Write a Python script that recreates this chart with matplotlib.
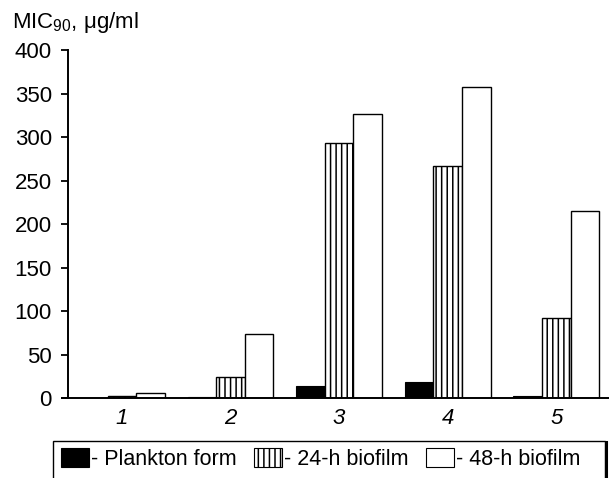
import matplotlib
matplotlib.use("Agg")
import matplotlib.pyplot as plt
import numpy as np
from matplotlib.patches import Patch, Rectangle
from matplotlib.lines import Line2D

# values
groups = ["1", "2", "3", "4", "5"]
plankton = [0.5, 1, 14, 19, 3]
biofilm_24h = [2.3, 25, 293, 267, 92]
biofilm_48h = [6, 73.5, 327, 357, 215]
yticks = [0, 50, 100, 150, 200, 250, 300, 350, 400]
legend_labels = ["- Plankton form", "- 24-h biofilm", "- 48-h biofilm"]

plt.rcParams["font.family"] = ["Liberation Sans", "DejaVu Sans"]
plt.rcParams["mathtext.fontset"] = "custom"
plt.rcParams["mathtext.rm"] = "Liberation Sans"
plt.rcParams["hatch.linewidth"] = 1.1
plt.rcParams["hatch.color"] = "black"

W, H = 609, 478
fig = plt.figure(figsize=(W / 100, H / 100), dpi=100)
ax = fig.add_axes([68.3 / W, 1 - 398.3 / H, (W - 68.3) / W, (398.3 - 50) / H])

x = np.arange(1, len(groups) + 1)
width = 0.263
ax.bar(x - width, plankton, width, color="black", edgecolor="black", linewidth=0.8)
ax.bar(x, biofilm_24h, width, color="white", edgecolor="black", linewidth=1.0, hatch="|||")
ax.bar(x + width, biofilm_48h, width, color="white", edgecolor="black", linewidth=1.0)

ax.set_ylim(0, 400)
ax.set_xlim(1 - 53.6 / 108.6, 1 + (W - 121.9) / 108.6)
ax.set_yticks(yticks)
ax.set_xticks(x)
ax.set_xticklabels(groups, fontstyle="italic")
ax.tick_params(axis="y", length=4.8, width=1.3, pad=7, labelsize=16, direction="out")
ax.tick_params(axis="x", length=0, pad=7, labelsize=16)
for s in ["top", "right"]:
    ax.spines[s].set_visible(False)
for s in ["left", "bottom"]:
    ax.spines[s].set_linewidth(1.4)
ax.spines["bottom"].set_bounds(ax.get_xlim()[0] - 0.06, ax.get_xlim()[1])
ax.spines["bottom"].set_clip_on(False)

fig.text(12 / W, 1 - 28 / H, r"MIC$_{\mathregular{90}}$, μg/ml", fontsize=16, va="baseline", ha="left")

# legend box (runs off the bottom of the picture in the reference)
fig.patches.append(Rectangle((53 / W, -0.05), (605 - 53) / W, (1 - 440.7 / H) + 0.05,
                             transform=fig.transFigure, facecolor="white",
                             edgecolor="black", linewidth=1.0))
fig.lines.append(Line2D([605.5 / W, 605.5 / W], [0, 1 - 442 / H], transform=fig.transFigure,
                        color="black", linewidth=2.2))

handles = [Patch(facecolor="black", edgecolor="black", linewidth=0.8),
           Patch(facecolor="white", edgecolor="black", linewidth=0.8, hatch="|||"),
           Patch(facecolor="white", edgecolor="black", linewidth=0.8)]
fig.legend(handles, legend_labels, loc="center left", ncol=3, frameon=False,
           bbox_to_anchor=(60.7 / W, 1 - 459 / H), fontsize=15.5,
           handlelength=1.3, handleheight=1.0, handletextpad=0.1,
           columnspacing=0.8, borderpad=0, borderaxespad=0)

fig.savefig("out.png", dpi=100)
